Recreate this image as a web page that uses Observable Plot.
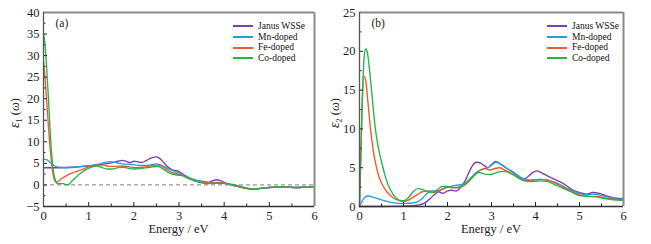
<!DOCTYPE html>
<html><head><meta charset="utf-8">
<script src="https://cdn.jsdelivr.net/npm/d3@7"></script>
<script src="https://cdn.jsdelivr.net/npm/@observablehq/plot@0.6"></script>
<style>
body{margin:0;background:#fff;}
#wrap{position:relative;width:651px;height:244px;font-family:"Liberation Serif","DejaVu Serif",serif;}
.panel{position:absolute;top:0;}
.leg{position:absolute;font-size:9.5px;color:#111;line-height:10.7px;font-family:"Liberation Serif","DejaVu Serif",serif;}
.leg div{display:flex;align-items:center;height:10.7px;}
.leg span.sw{display:inline-block;width:20px;height:2px;margin-right:5px;}
svg text{font-family:"Liberation Serif","DejaVu Serif",serif !important;}
</style></head>
<body><div id="wrap"></div>
<script>
const seriesNames = ["Janus WSSe","Mn-doped","Fe-doped","Co-doped"];
const colors = ["#7a3fb0","#1ea0e6","#f5582a","#27b34b"];

// epsilon_1 (a): [E, value]
const e1Janus = [[0,4.0],[0.3,4.0],[0.6,4.1],[0.9,4.3],[1.1,4.5],[1.3,4.8],[1.5,5.1],[1.65,5.5],[1.75,5.7],[1.85,5.4],[1.92,5.2],[2.0,5.5],[2.08,5.4],[2.17,5.2],[2.28,5.7],[2.38,6.2],[2.5,6.5],[2.58,6.1],[2.66,5.2],[2.75,4.2],[2.85,3.5],[2.95,3.3],[3.02,3.0],[3.12,2.3],[3.25,1.5],[3.4,1.0],[3.55,0.8],[3.65,0.6],[3.75,1.0],[3.83,1.2],[3.92,1.0],[4.0,0.6],[4.1,0.2],[4.25,-0.2],[4.4,-0.6],[4.55,-0.9],[4.65,-1.0],[4.8,-0.8],[5.0,-0.6],[5.2,-0.5],[5.4,-0.5],[5.6,-0.6],[5.8,-0.5],[6.0,-0.4]];
const e1Mn = [[0,6.0],[0.08,5.8],[0.16,5.1],[0.25,4.4],[0.35,4.1],[0.5,4.0],[0.7,4.1],[0.9,4.4],[1.1,4.6],[1.25,4.9],[1.38,5.3],[1.48,5.4],[1.6,5.2],[1.75,4.9],[1.9,4.8],[2.05,4.6],[2.2,4.5],[2.35,4.6],[2.48,4.9],[2.58,4.7],[2.7,4.1],[2.82,3.5],[2.92,3.1],[3.05,2.6],[3.2,1.8],[3.35,1.2],[3.5,0.8],[3.65,0.5],[3.78,0.6],[3.88,0.6],[4.0,0.4],[4.15,0.0],[4.3,-0.4],[4.5,-0.8],[4.65,-0.9],[4.8,-0.8],[5.0,-0.6],[5.2,-0.4],[5.4,-0.5],[5.6,-0.6],[5.8,-0.5],[6.0,-0.4]];
const e1Fe = [[0,28.5],[0.04,24],[0.08,18],[0.12,12],[0.16,7],[0.2,3.2],[0.24,1.2],[0.28,0.6],[0.33,0.9],[0.4,1.5],[0.5,2.1],[0.6,2.6],[0.75,3.2],[0.9,3.8],[1.05,4.3],[1.2,4.6],[1.32,4.6],[1.45,4.3],[1.6,4.3],[1.75,4.4],[1.9,4.2],[2.05,4.0],[2.2,4.1],[2.35,4.4],[2.5,4.6],[2.6,4.4],[2.7,3.8],[2.82,3.0],[2.95,2.6],[3.08,2.2],[3.22,1.5],[3.38,0.9],[3.55,0.5],[3.7,0.4],[3.85,0.5],[3.95,0.5],[4.1,0.2],[4.25,-0.2],[4.4,-0.6],[4.55,-0.9],[4.65,-1.0],[4.8,-0.8],[5.0,-0.6],[5.2,-0.4],[5.4,-0.5],[5.6,-0.6],[5.8,-0.5],[6.0,-0.4]];
const e1Co = [[0,35],[0.03,33],[0.07,27],[0.11,20],[0.15,12],[0.19,6],[0.23,2.5],[0.27,0.9],[0.31,0.3],[0.37,0.3],[0.44,0.3],[0.5,0.0],[0.56,0.1],[0.63,0.9],[0.72,1.8],[0.82,2.7],[0.95,3.6],[1.08,4.2],[1.18,4.4],[1.28,4.1],[1.4,3.7],[1.52,3.7],[1.65,4.0],[1.78,4.1],[1.9,3.8],[2.02,3.7],[2.15,3.8],[2.3,4.0],[2.42,4.2],[2.52,4.3],[2.62,3.9],[2.72,3.2],[2.82,2.6],[2.95,2.3],[3.05,2.2],[3.2,1.5],[3.35,0.9],[3.5,0.5],[3.65,0.3],[3.8,0.4],[3.92,0.4],[4.05,0.3],[4.2,0.1],[4.35,-0.3],[4.5,-0.7],[4.65,-1.0],[4.8,-0.8],[5.0,-0.6],[5.2,-0.4],[5.4,-0.5],[5.6,-0.6],[5.8,-0.5],[6.0,-0.4]];

// epsilon_2 (b)
const e2Janus = [[0,0],[0.5,0],[1.0,0.05],[1.2,0.1],[1.35,0.2],[1.5,0.5],[1.62,1.1],[1.72,1.6],[1.8,1.9],[1.9,1.7],[2.0,2.0],[2.08,2.1],[2.2,2.0],[2.3,2.5],[2.4,3.3],[2.48,4.3],[2.56,5.2],[2.65,5.7],[2.75,5.6],[2.85,5.2],[2.92,5.0],[3.0,5.4],[3.1,5.8],[3.2,5.5],[3.35,4.9],[3.5,4.4],[3.62,3.9],[3.72,3.5],[3.82,3.8],[3.92,4.3],[4.02,4.6],[4.12,4.4],[4.25,4.0],[4.4,3.6],[4.55,3.2],[4.7,2.7],[4.85,2.1],[5.0,1.8],[5.15,1.6],[5.3,1.8],[5.45,1.7],[5.6,1.4],[5.8,1.1],[6.0,1.0]];
const e2Mn = [[0,0],[0.06,0.7],[0.12,1.2],[0.2,1.35],[0.3,1.2],[0.45,0.95],[0.6,0.7],[0.75,0.5],[0.9,0.4],[1.05,0.4],[1.2,0.45],[1.32,0.6],[1.42,1.0],[1.52,1.6],[1.62,2.0],[1.75,2.0],[1.88,2.2],[2.0,2.5],[2.15,2.7],[2.3,2.8],[2.42,3.1],[2.55,3.8],[2.68,4.5],[2.8,4.8],[2.92,5.0],[3.02,5.4],[3.1,5.7],[3.2,5.5],[3.35,4.9],[3.5,4.4],[3.65,3.8],[3.78,3.5],[3.92,3.4],[4.1,3.5],[4.28,3.4],[4.45,3.1],[4.6,2.7],[4.8,2.1],[5.0,1.7],[5.15,1.5],[5.3,1.6],[5.45,1.5],[5.6,1.3],[5.8,1.0],[6.0,0.9]];
const e2Fe = [[0,0],[0.03,6],[0.06,13],[0.1,16.8],[0.14,16.3],[0.19,13.5],[0.25,10],[0.31,7.3],[0.38,5.2],[0.45,3.7],[0.55,2.5],[0.65,1.7],[0.77,1.1],[0.9,0.75],[1.0,0.65],[1.1,0.8],[1.22,1.2],[1.33,1.6],[1.43,1.9],[1.55,2.0],[1.67,1.8],[1.8,2.0],[1.93,2.4],[2.07,2.5],[2.22,2.4],[2.38,2.7],[2.5,3.3],[2.62,4.1],[2.75,4.7],[2.85,4.9],[2.96,4.7],[3.08,4.9],[3.18,5.0],[3.3,4.7],[3.45,4.3],[3.6,3.8],[3.75,3.3],[3.9,3.4],[4.1,3.5],[4.28,3.4],[4.45,3.0],[4.6,2.6],[4.8,2.0],[5.0,1.5],[5.2,1.3],[5.4,1.3],[5.6,1.1],[5.8,0.9],[6.0,0.8]];
const e2Co = [[0,0],[0.02,5],[0.05,11],[0.08,16.5],[0.11,19.5],[0.14,20.3],[0.18,19.8],[0.23,17.5],[0.29,14],[0.35,10.5],[0.42,7.8],[0.5,5.8],[0.57,4.2],[0.65,2.8],[0.75,1.7],[0.85,1.0],[0.95,0.75],[1.03,0.8],[1.12,1.2],[1.22,1.9],[1.32,2.3],[1.43,2.2],[1.55,1.9],[1.67,1.8],[1.78,2.2],[1.88,2.6],[2.0,2.6],[2.12,2.4],[2.25,2.5],[2.4,2.9],[2.52,3.5],[2.63,4.1],[2.72,4.4],[2.82,4.2],[2.95,4.1],[3.08,4.3],[3.2,4.5],[3.32,4.5],[3.45,4.2],[3.6,3.7],[3.75,3.3],[3.9,3.2],[4.1,3.3],[4.28,3.2],[4.45,2.8],[4.6,2.4],[4.8,1.9],[5.0,1.4],[5.2,1.3],[5.4,1.2],[5.6,1.0],[5.8,0.85],[6.0,0.8]];

const xMajor = [0,1,2,3,4,5,6];
const xMinor = [0.5,1.5,2.5,3.5,4.5,5.5];
const y1Major = [-5,0,5,10,15,20,25,30,35,40];
const y1Minor = [-2.5,2.5,7.5,12.5,17.5,22.5,27.5,32.5,37.5];
const y2Major = [0,5,10,15,20,25];
const y2Minor = [2.5,7.5,12.5,17.5,22.5];

const FONT = "'Liberation Serif', 'DejaVu Serif', serif";

function tidy(arrs){
  const out=[];
  arrs.forEach((a,i)=>a.forEach(([E,v])=>out.push({E,v,s:seriesNames[i]})));
  return out;
}

function makePanel({data, yDomain, yMajor, yMinor, width, ml, mr, zeroLine, tag, sub}){
  const marks = [];
  if (zeroLine) marks.push(Plot.ruleY([0],{stroke:"#9a9a9a",strokeWidth:1.2,strokeDasharray:"4,3"}));
  marks.push(
    Plot.line(data,{x:"E",y:"v",z:"s",stroke:"s",strokeWidth:1.35,curve:"monotone-x"}),
    Plot.axisX({ticks:xMajor,tickSize:0,tickPadding:5,fontSize:12.5,tickFormat:d=>String(d)}),
    Plot.axisX({ticks:xMajor,tickSize:-4,tickFormat:()=>""}),
    Plot.axisX({ticks:xMinor,tickSize:-2.5,tickFormat:()=>""}),
    Plot.axisY({ticks:yMajor,tickSize:0,tickPadding:4,fontSize:12.5,tickFormat:d=>d<0?"\u2212"+Math.abs(d):String(d)}),
    Plot.axisY({ticks:yMajor,tickSize:-4,tickFormat:()=>""}),
    Plot.axisY({ticks:yMinor,tickSize:-2.5,tickFormat:()=>""}),
    Plot.ruleX([6],{stroke:"#8a8a8a",strokeWidth:2}),
    Plot.ruleY([yDomain[1]],{stroke:"#8a8a8a",strokeWidth:2}),
    Plot.ruleX([0],{stroke:"#555",strokeWidth:1.3}),
    Plot.ruleY([yDomain[0]],{stroke:"#333",strokeWidth:1.3}),
    Plot.text([tag],{frameAnchor:"top-left",dx:12,dy:6,fontSize:11.5,fill:"#222"})
  );
  const svg = Plot.plot({
    width, height:244, marginLeft:ml, marginRight:mr, marginTop:12, marginBottom:38,
    style:{fontFamily:FONT,fontSize:"12px",color:"#222",background:"#fff"},
    x:{domain:[0,6],label:null},
    y:{domain:yDomain,label:null},
    color:{domain:seriesNames,range:colors},
    marks
  });
  const g = d3.select(svg);
  g.attr("font-family", FONT);
  g.selectAll("text").attr("font-family", FONT);
  // x label
  g.append("text").attr("x", ml + (width-ml-mr)/2).attr("y",233).attr("text-anchor","middle")
    .attr("font-family",FONT).attr("font-size","12.5px").attr("fill","#222").text("Energy / eV");
  // y label with italic epsilon, subscript, omega
  const t = g.append("text").attr("transform",`translate(19,113) rotate(-90)`).attr("text-anchor","middle")
    .attr("font-family",FONT).attr("font-size","12.5px").attr("fill","#222");
  t.append("tspan").attr("font-style","italic").attr("font-size","14px").text("\u03b5");
  t.append("tspan").attr("font-size","8px").attr("dy","3").text(sub);
  t.append("tspan").attr("dy","-3").text(" (");
  t.append("tspan").attr("font-style","italic").text("\u03c9");
  t.append("tspan").text(")");
  return svg;
}

const wrap = document.getElementById("wrap");
function place(el,left){ const d=document.createElement("div"); d.className="panel"; d.style.left=left+"px"; d.appendChild(el); wrap.appendChild(d); }

place(makePanel({data:tidy([e1Janus,e1Mn,e1Fe,e1Co]), yDomain:[-5,40], yMajor:y1Major, yMinor:y1Minor, width:320, ml:43, mr:6, zeroLine:true, tag:"(a)", sub:"1"}),0);
place(makePanel({data:tidy([e2Janus,e2Mn,e2Fe,e2Co]), yDomain:[0,25], yMajor:y2Major, yMinor:y2Minor, width:331, ml:39, mr:28, zeroLine:false, tag:"(b)", sub:"2"}),320);

function legend(left, top){
  const d=document.createElement("div"); d.className="leg"; d.style.left=left+"px"; d.style.top=top+"px";
  seriesNames.forEach((n,i)=>{ const r=document.createElement("div");
    r.innerHTML=`<span class="sw" style="background:${colors[i]}"></span>${n}`; d.appendChild(r);});
  wrap.appendChild(d);
}
legend(233,21);
legend(547,21);
</script></body></html>
